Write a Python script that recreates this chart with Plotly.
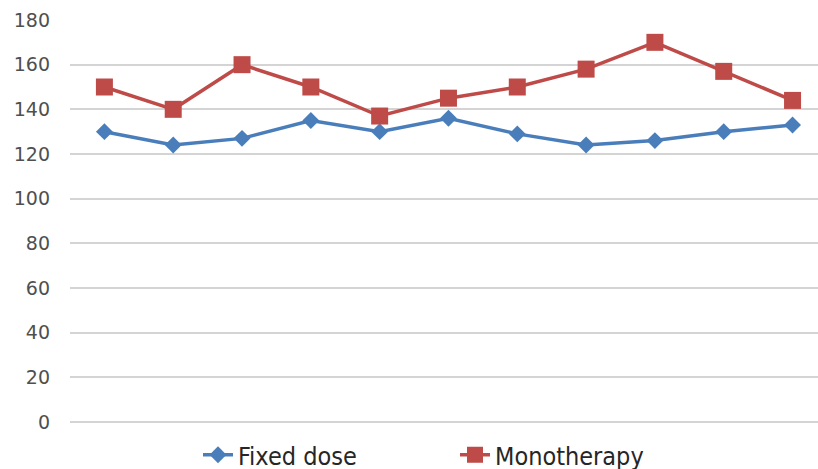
import plotly.graph_objects as go

categories = [1, 2, 3, 4, 5, 6, 7, 8, 9, 10, 11]
fixed_dose = [130, 124, 127, 135, 130, 136, 129, 124, 126, 130, 133]
monotherapy = [150, 140, 160, 150, 137, 145, 150, 158, 170, 157, 144]
y_ticks = [0, 20, 40, 60, 80, 100, 120, 140, 160, 180]

fig = go.Figure()
fig.add_trace(go.Scatter(
    x=categories, y=fixed_dose, name="Fixed dose", mode="lines+markers",
    line=dict(color="#4A7EBB", width=3.5),
    marker=dict(symbol="diamond", size=13, color="#4A7EBB"),
))
fig.add_trace(go.Scatter(
    x=categories, y=monotherapy, name="Monotherapy", mode="lines+markers",
    line=dict(color="#BE4B48", width=3.5),
    marker=dict(symbol="square", size=17, color="#BE4B48"),
))

fig.update_layout(
    width=818, height=469,
    margin=dict(l=70, r=0, t=20, b=47, autoexpand=False),
    paper_bgcolor="white", plot_bgcolor="white",
    font=dict(family="DejaVu Sans", color="#595959"),
    showlegend=True,
    legend=dict(
        orientation="h", x=198 / 818, xanchor="left", xref="container",
        y=1 - 455 / 469, yanchor="middle", yref="container",
        font=dict(family="DejaVu Sans Condensed, DejaVu Sans", size=25, color="#262626"),
        entrywidth=212, entrywidthmode="pixels",
        bgcolor="rgba(0,0,0,0)",
    ),
    xaxis=dict(
        range=[0.5, 11.37], showticklabels=False, showgrid=False,
        zeroline=False, showline=False, ticks="", automargin=False,
    ),
    yaxis=dict(
        range=[0, 180], tickvals=y_ticks, showgrid=True,
        gridcolor="#D4D4D4", gridwidth=1.5,
        zeroline=True, zerolinecolor="#D4D4D4", zerolinewidth=1.5,
        showline=False, ticks="", ticklabelstandoff=19, automargin=False,
        tickfont=dict(family="DejaVu Sans", size=19, color="#4F4F4F"),
    ),
)

fig.write_html(
    "out.html",
    config={"displayModeBar": False},
    post_script="document.body.style.margin='0';document.body.style.overflow='hidden';",
)
